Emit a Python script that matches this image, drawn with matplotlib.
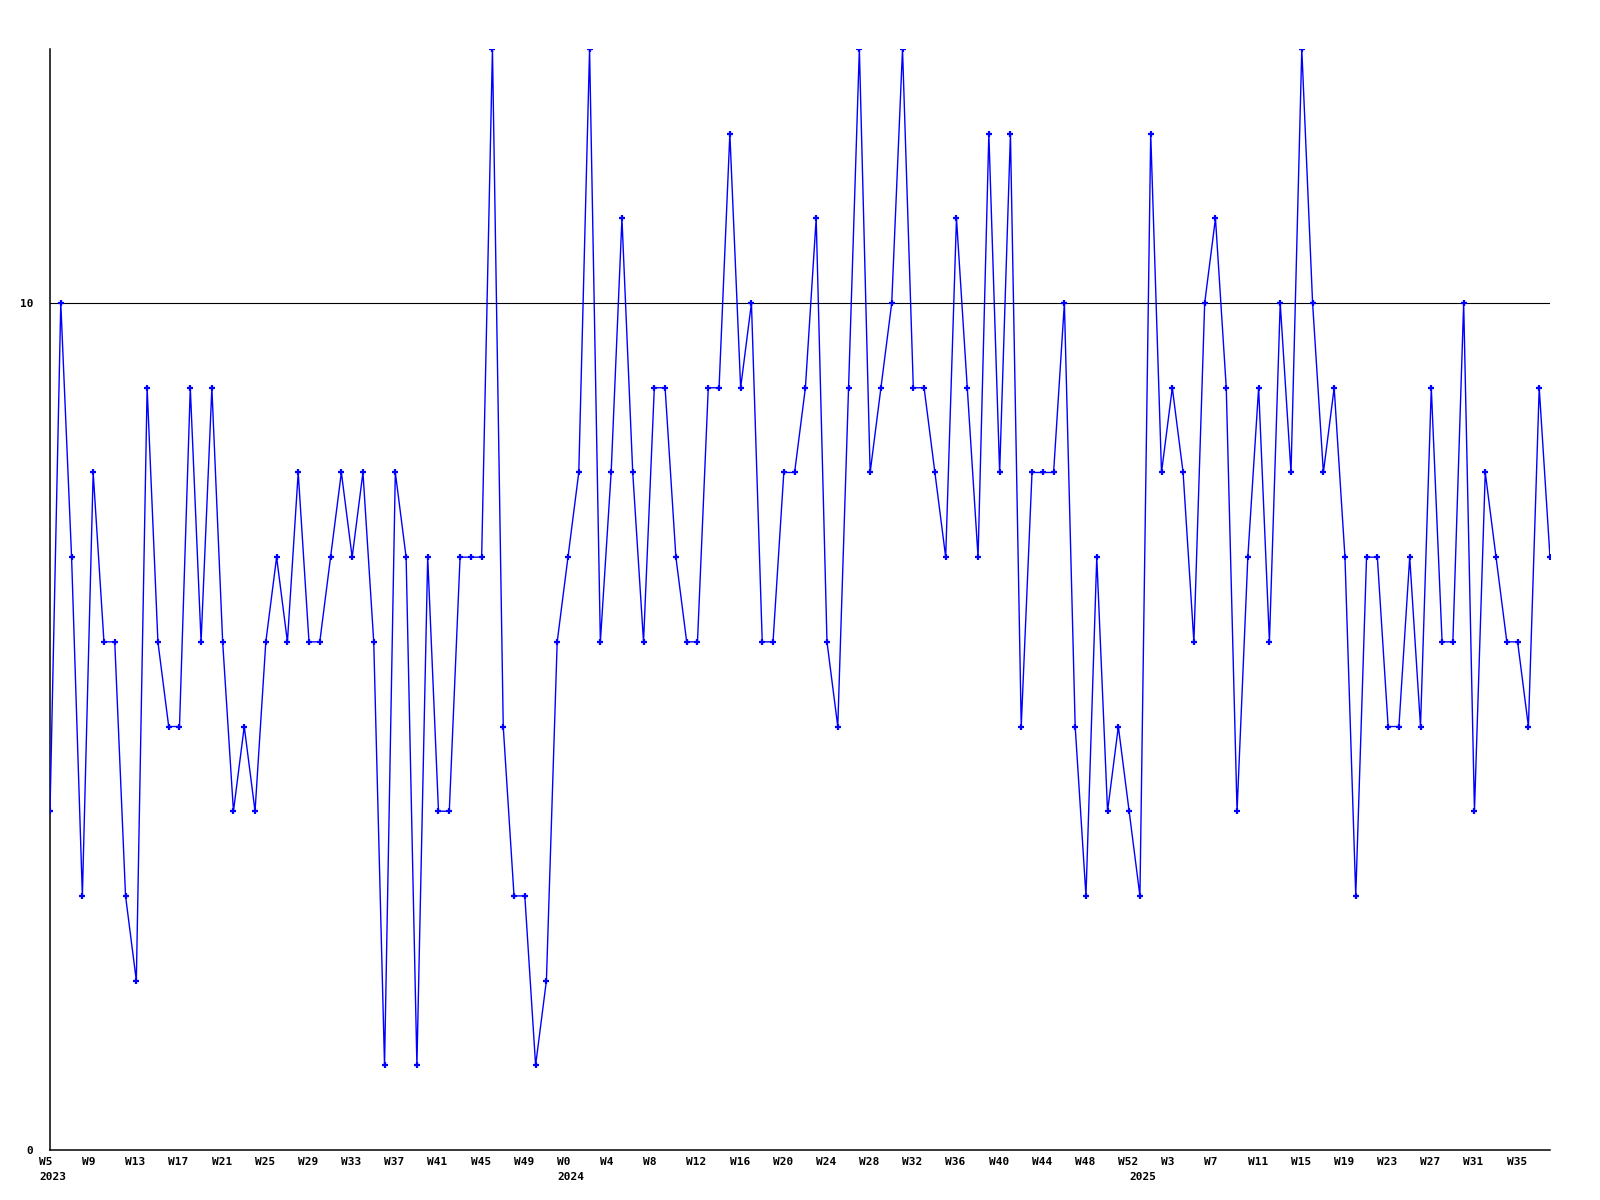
import numpy as np
import matplotlib
matplotlib.use('Agg')
import matplotlib.pyplot as plt
from matplotlib.transforms import offset_copy

# weekly counts, 2023 W5 .. 2025 W38
values = [4, 10, 7, 3, 8, 6, 6, 3, 2, 9,
          6, 5, 5, 9, 6, 9, 6, 4, 5, 4,
          6, 7, 6, 8, 6, 6, 7, 8, 7, 8,
          6, 1, 8, 7, 1, 7, 4, 4, 7, 7,
          7, 13, 5, 3, 3, 1, 2, 6, 7, 8,
          13, 6, 8, 11, 8, 6, 9, 9, 7, 6,
          6, 9, 9, 12, 9, 10, 6, 6, 8, 8,
          9, 11, 6, 5, 9, 13, 8, 9, 10, 13,
          9, 9, 8, 7, 11, 9, 7, 12, 8, 12,
          5, 8, 8, 8, 10, 5, 3, 7, 4, 5,
          4, 3, 12, 8, 9, 8, 6, 10, 11, 9,
          4, 7, 9, 6, 10, 8, 13, 10, 8, 9,
          7, 3, 7, 7, 5, 5, 7, 5, 9, 6,
          6, 10, 4, 8, 7, 6, 6, 5, 9, 7]

weeks = list(range(5, 53)) + list(range(0, 53)) + list(range(0, 39))
years = [2023] * 48 + [2024] * 53 + [2025] * 39

ytick_vals = [0, 10]
ymax = 13

x = np.arange(len(values))

fig = plt.figure(figsize=(16, 12), dpi=100)
ax = fig.add_axes([50 / 1600, 1 - 1150 / 1200, 1500 / 1600, 1101 / 1200])

ax.plot(x, values, color='#0000ff', lw=1.0, marker='+', ms=5, mew=1.6,
        mec='#0000ff', zorder=3)
ax.axhline(10, color='black', lw=0.8, zorder=1)

ax.set_xlim(0, len(values) - 1)
ax.set_ylim(0, ymax)

for s in ['top', 'right']:
    ax.spines[s].set_visible(False)
for s in ['left', 'bottom']:
    ax.spines[s].set_color('black')
    ax.spines[s].set_linewidth(1.1)

font = dict(fontsize=8, fontweight='bold', family='DejaVu Sans Mono')

ax.set_xticks([])
ax.set_yticks(ytick_vals)
ax.set_yticklabels([str(v) for v in ytick_vals], **font)
ax.tick_params(axis='y', length=0, pad=12)

trans_w = offset_copy(ax.get_xaxis_transform(), fig=fig, x=-11, y=-7, units='dots')
trans_y = offset_copy(ax.get_xaxis_transform(), fig=fig, x=-11, y=-22, units='dots')

# week labels every 4 weeks
for i in range(0, len(values), 4):
    ax.text(x[i], 0, 'W%d' % weeks[i], transform=trans_w, ha='left', va='top', **font)

# year labels where a new year starts
prev = None
for i, yr in enumerate(years):
    if yr != prev:
        ax.text(x[i], 0, str(yr), transform=trans_y, ha='left', va='top', **font)
        prev = yr

fig.savefig('out.png', dpi=100)
